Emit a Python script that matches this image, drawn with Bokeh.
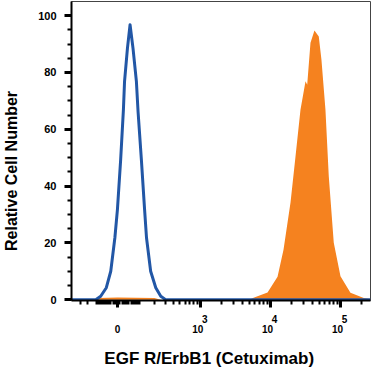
import numpy as np
from bokeh.plotting import figure
from bokeh.models import Range1d, FixedTicker, CustomJSTickFormatter
from bokeh.embed import file_html
from bokeh.resources import INLINE

# ---- data (fluorescence intensity, relative cell number) ----
blue_x = [-300, -103, -77, -50, -30, -12, -1, 13, 25, 30, 43, 55, 69, 86, 95,
          113, 132, 144, 172, 211, 255, 304, 270000]
blue_y = [0, 0, 1.2, 4.2, 10.0, 21.8, 31.7, 49.3, 66.9, 76.9, 88.6, 96.8, 88.6,
          76.9, 66.0, 49.3, 31.7, 21.8, 10.0, 4.2, 1.2, 0, 0]

orange_x = [-300, -100, -87, 0, 200, 255, 5000, 5740, 9105, 12655, 15400, 19400,
            22860, 26930, 31790, 33600, 37430, 42680, 49190, 53720, 61280, 68400,
            80580, 100500, 139600, 216400, 270000]
orange_y = [0, 0, 0.6, 0.8, 0.6, 0, 0, 0.7, 2.5, 8.1, 17.6, 34.2, 50.4, 66.9,
            76.9, 75.7, 90.5, 94.8, 92.7, 84.5, 66.9, 43.4, 20.0, 8.2, 2.4, 0.6, 0.2]

x_major = [0, 1e3, 1e4, 1e5]
x_major_base = ["0", "10", "10", "10"]
x_major_sup = ["", "3", "4", "5"]
x_minor = ([-300, -200, -150] + [-v for v in range(10, 101, 10)] + list(range(10, 101, 10))
           + list(range(200, 1000, 100)) + list(range(2000, 10000, 1000))
           + list(range(20000, 100000, 10000)) + [200000])
y_major = [0, 20, 40, 60, 80, 100]
y_minor = list(range(5, 105, 5))

x_title = "EGF R/ErbB1 (Cetuximab)"
y_title = "Relative Cell Number"

COF = 131.0


def disp(v):
    return np.arcsinh(np.asarray(v, dtype=float) / COF) / np.log(10)


x_lo, x_hi = float(disp(-285)), float(disp(270000))
y_lo, y_hi = -0.3, 105.0

FONT = "Liberation Sans"
ORANGE = "#f5821f"
BLUE = "#2257a6"
NB = "\u00a0"

p = figure(width=371, height=372, output_backend="svg", toolbar_location=None,
           x_range=Range1d(x_lo, x_hi), y_range=Range1d(y_lo, y_hi),
           min_border_left=71, min_border_right=1, min_border_top=1, min_border_bottom=72)
p.background_fill_color = "white"
p.border_fill_color = "white"
p.outline_line_color = "#444444"
p.outline_line_width = 1
p.xgrid.visible = False
p.ygrid.visible = False

p.varea(x=disp(orange_x), y1=0, y2=orange_y, fill_color=ORANGE, fill_alpha=1.0)
p.line(x=disp(blue_x), y=blue_y, line_color=BLUE, line_width=3, line_join="round")

# y axis
ya = p.yaxis[0]
ya.ticker = FixedTicker(ticks=y_major, minor_ticks=y_minor)
ya.axis_line_color = "black"
ya.axis_line_width = 2
ya.major_tick_line_color = "black"
ya.major_tick_line_width = 3
ya.major_tick_out = 7
ya.major_tick_in = 0
ya.minor_tick_line_color = "black"
ya.minor_tick_line_width = 2
ya.minor_tick_out = 4
ya.minor_tick_in = 0
ya.major_label_text_font = FONT
ya.major_label_text_font_style = "bold"
ya.major_label_text_font_size = "11px"
ya.major_label_text_color = "black"
ya.major_label_standoff = 8
# title sits below the frame centre in the original: pad its end
ya.axis_label = y_title + NB * 9
ya.axis_label_standoff = 15
ya.axis_label_text_font = FONT
ya.axis_label_text_font_style = "bold"
ya.axis_label_text_font_size = "16px"
ya.axis_label_text_color = "black"

# x axis: labels as two lines, exponent on the upper line
x_labels = []
for base, sup in zip(x_major_base, x_major_sup):
    if sup:
        x_labels.append(NB * 3 + sup + "\n" + base + NB * 2)
    else:
        x_labels.append(NB + "\n" + base)

xa = p.xaxis[0]
xa.ticker = FixedTicker(ticks=list(disp(x_major)), minor_ticks=list(disp(x_minor)))
xa.formatter = CustomJSTickFormatter(args=dict(labels=x_labels), code="return labels[index]")
xa.axis_line_color = "black"
xa.axis_line_width = 2
xa.major_tick_line_color = "black"
xa.major_tick_line_width = 3
xa.major_tick_out = 7
xa.major_tick_in = 0
xa.minor_tick_line_color = "black"
xa.minor_tick_line_width = 2
xa.minor_tick_out = 4
xa.minor_tick_in = 0
xa.major_label_text_font = FONT
xa.major_label_text_font_style = "bold"
xa.major_label_text_font_size = "10px"
xa.major_label_text_color = "black"
xa.major_label_text_line_height = 0.95
xa.major_label_standoff = 6
# title sits left of the frame centre in the original: pad its end
xa.axis_label = x_title + NB * 5
xa.axis_label_standoff = 11
xa.axis_label_text_font = FONT
xa.axis_label_text_font_style = "bold"
xa.axis_label_text_font_size = "17px"
xa.axis_label_text_color = "black"

open("out.html", "w").write(file_html(p, INLINE))
